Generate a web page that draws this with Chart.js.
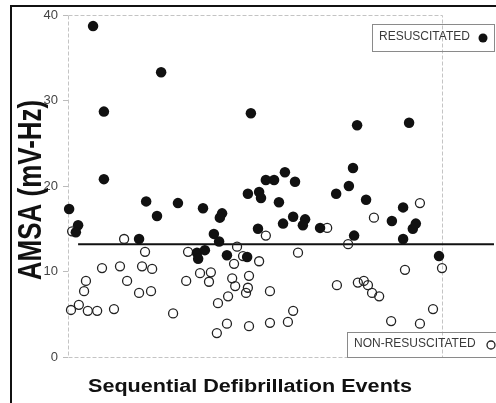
<!DOCTYPE html>
<html>
<head>
<meta charset="utf-8">
<script src="https://cdn.jsdelivr.net/npm/chart.js@4/dist/chart.umd.min.js"></script>
<style>
  html, body { margin: 0; padding: 0; background: #fff; }
  #wrap { position: relative; width: 496px; height: 403px; overflow: hidden; }
</style>
</head>
<body>
<div id="wrap"><canvas id="c" width="496" height="403"></canvas></div>
<script>
// ---- data ----
const resuscitatedX = [0.3, 2.7, 2.1, 6.7, 9.6, 9.6, 19.0, 20.9, 23.8, 24.9, 29.4, 34.5, 34.8, 36.6, 36.1, 41.2, 40.6, 39.0, 40.4, 42.5, 47.9, 48.1, 48.9, 51.1, 51.6, 52.9, 55.1, 58.0, 60.7, 56.4, 50.8, 57.5, 60.2, 63.4, 62.8, 67.4, 71.7, 75.1, 76.2, 77.3, 76.5, 79.7, 86.6, 89.6, 89.6, 91.2, 92.2, 93.0, 99.2];
const resuscitatedY = [17.3, 15.4, 14.6, 38.7, 28.7, 20.8, 13.8, 18.2, 16.5, 33.3, 18.0, 12.2, 11.5, 12.5, 17.4, 16.8, 16.3, 14.4, 13.5, 11.9, 11.7, 19.1, 28.5, 19.3, 18.6, 20.7, 20.7, 21.6, 20.5, 18.1, 15.0, 15.6, 16.4, 16.1, 15.4, 15.1, 19.1, 20.0, 22.1, 27.1, 14.2, 18.4, 15.9, 17.5, 13.8, 27.4, 15.0, 15.6, 11.8];
const nonResuscitatedX = [1.1, 0.8, 2.9, 5.3, 7.8, 4.3, 4.8, 9.1, 12.3, 13.9, 15.0, 15.8, 19.0, 19.8, 20.6, 22.2, 22.5, 28.1, 31.6, 32.1, 35.3, 38.2, 37.7, 40.1, 42.8, 39.8, 42.5, 43.9, 44.7, 44.4, 45.2, 46.8, 48.4, 48.1, 47.6, 48.4, 51.1, 52.9, 54.0, 54.0, 58.8, 60.2, 61.5, 69.3, 71.9, 74.9, 77.5, 79.1, 80.2, 81.3, 83.2, 81.8, 86.4, 90.1, 94.1, 94.1, 97.6, 100.0];
const nonResuscitatedY = [14.7, 5.5, 6.1, 5.4, 5.4, 7.7, 8.9, 10.4, 5.6, 10.6, 13.8, 8.9, 7.5, 10.6, 12.3, 7.7, 10.3, 5.1, 8.9, 12.3, 9.8, 9.9, 8.8, 6.3, 7.1, 2.8, 3.9, 9.2, 8.3, 10.9, 12.9, 11.8, 9.5, 8.1, 7.5, 3.6, 11.2, 14.2, 7.7, 4.0, 4.1, 5.4, 12.2, 15.1, 8.4, 13.2, 8.7, 8.9, 8.4, 7.5, 7.1, 16.3, 4.2, 10.2, 18.0, 3.9, 5.6, 10.4];
const thresholdValue = 13.2;
const thresholdX = [2.7, 113.9];
const yTicks = [0, 10, 20, 30, 40];
const legendLabels = ['RESUSCITATED', 'NON-RESUSCITATED'];
const yTitle = 'AMSA (mV-Hz)';
const xTitle = 'Sequential Defibrillation Events';

const toPoints = (xs, ys) => xs.map((x, i) => ({ x: x, y: ys[i] }));

const decorPlugin = {
  id: 'decor',
  beforeDatasetsDraw(chart) {
    const { ctx, chartArea: a } = chart;
    ctx.save();
    ctx.strokeStyle = '#c4c4c4';
    ctx.lineWidth = 1;
    ctx.setLineDash([4, 2]);
    ctx.strokeRect(Math.round(a.left) + 0.5, Math.round(a.top) + 0.5, Math.round(a.right - a.left), Math.round(a.bottom - a.top));
    ctx.restore();
  },
  afterDraw(chart) {
    const { ctx } = chart;
    ctx.save();
    // outer frame
    ctx.strokeStyle = '#111';
    ctx.lineWidth = 2;
    ctx.beginPath();
    ctx.moveTo(11, 403);
    ctx.lineTo(11, 6);
    ctx.lineTo(496, 6);
    ctx.stroke();

    // legend boxes
    ctx.lineWidth = 1;
    ctx.strokeStyle = '#8a8a8a';
    ctx.strokeRect(372.5, 24.5, 122, 27);
    ctx.strokeRect(347.5, 332.5, 152, 25);
    ctx.fillStyle = '#3a3a3a';
    ctx.font = '12px Arial, "Liberation Sans", sans-serif';
    ctx.textBaseline = 'middle';
    ctx.textAlign = 'left';
    ctx.fillText(legendLabels[0], 379, 37);
    ctx.fillText(legendLabels[1], 354, 344);
    ctx.fillStyle = '#111';
    ctx.beginPath();
    ctx.arc(483, 38, 4.5, 0, Math.PI * 2);
    ctx.fill();
    ctx.strokeStyle = '#222';
    ctx.lineWidth = 1.3;
    ctx.beginPath();
    ctx.arc(491, 345, 4, 0, Math.PI * 2);
    ctx.stroke();

    // axis titles (stretched horizontally like the reference)
    ctx.fillStyle = '#111';
    ctx.textAlign = 'center';
    ctx.textBaseline = 'alphabetic';
    ctx.save();
    ctx.translate(250, 392);
    ctx.scale(1.2, 1);
    ctx.font = 'bold 18px Arial, "Liberation Sans", sans-serif';
    ctx.fillText(xTitle, 0, 0);
    ctx.restore();

    ctx.save();
    ctx.translate(41, 190);
    ctx.scale(1.25, 1);
    ctx.rotate(-Math.PI / 2);
    ctx.font = 'bold 26px Arial, "Liberation Sans", sans-serif';
    ctx.fillText(yTitle, 0, 0);
    ctx.restore();
    ctx.restore();
  }
};

new Chart(document.getElementById('c'), {
  type: 'scatter',
  data: {
    datasets: [
      {
        label: legendLabels[0],
        data: toPoints(resuscitatedX, resuscitatedY),
        pointRadius: 5.25,
        pointBackgroundColor: '#111',
        pointBorderColor: '#111',
        pointBorderWidth: 0,
        clip: false,
        order: 1
      },
      {
        label: legendLabels[1],
        data: toPoints(nonResuscitatedX, nonResuscitatedY),
        pointRadius: 4.5,
        pointBackgroundColor: 'rgba(0,0,0,0)',
        pointBorderColor: '#222',
        pointBorderWidth: 1.3,
        clip: false,
        order: 2
      },
      {
        type: 'line',
        label: 'threshold',
        data: thresholdX.map(x => ({ x: x, y: thresholdValue })),
        borderColor: '#111',
        borderWidth: 2,
        pointRadius: 0,
        clip: false,
        order: 3
      }
    ]
  },
  options: {
    responsive: false,
    devicePixelRatio: 1,
    animation: false,
    events: [],
    layout: { padding: { left: 0, top: 15, right: 54, bottom: 46 } },
    plugins: { legend: { display: false }, tooltip: { enabled: false }, title: { display: false } },
    scales: {
      x: { type: 'linear', min: 0, max: 100, display: false },
      y: {
        type: 'linear', min: 0, max: 40,
        afterFit(scale) { scale.width = 68; },
        afterBuildTicks(scale) { scale.ticks = yTicks.map(v => ({ value: v })); },
        ticks: {
          padding: 5,
          color: '#444',
          font: { size: 13, family: 'Arial, "Liberation Sans", sans-serif' }
        },
        grid: { drawOnChartArea: false, drawTicks: true, tickLength: 5, color: '#bbb' },
        border: { display: false }
      }
    }
  },
  plugins: [decorPlugin]
});
</script>
</body>
</html>
